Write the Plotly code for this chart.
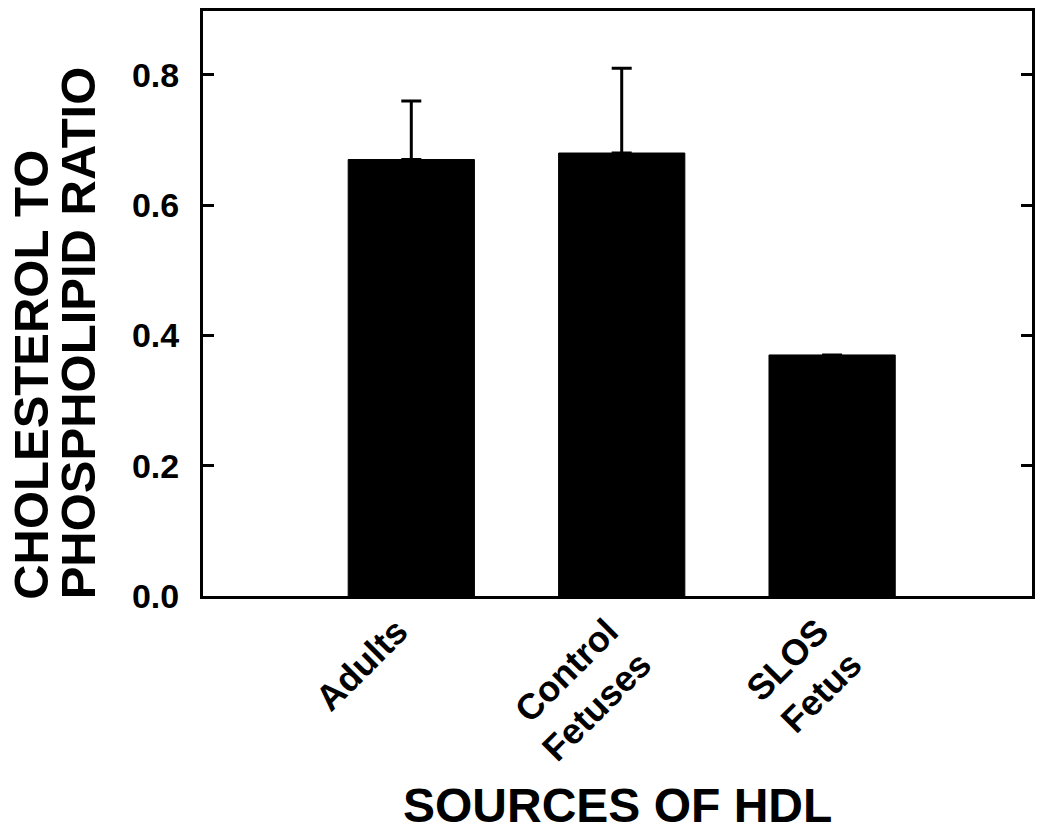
import plotly.graph_objects as go

# Data
sources = ["Adults", "Control<br>Fetuses", "SLOS<br>Fetus"]
ratio = [0.67, 0.68, 0.37]
ratio_err = [0.09, 0.13, float("nan")]
y_ticks = [0, 0.2, 0.4, 0.6, 0.8]

x_pos = list(range(len(sources)))

fig = go.Figure(
    go.Bar(
        x=x_pos,
        y=ratio,
        width=0.6,
        marker=dict(color="black", line=dict(color="black", width=1)),
        error_y=dict(type="data", array=ratio_err, symmetric=False,
                     arrayminus=[float("nan")] * 3,
                     color="black", thickness=3, width=10),
    )
)

fnt = "Arial, Liberation Sans, sans-serif"

# y title as two close lines (tight line spacing like the original)
fig.add_annotation(text="CHOLESTEROL TO", textangle=-90, xref="paper", yref="paper",
                   x=0, xshift=-172, xanchor="center", y=-0.01, yanchor="bottom",
                   showarrow=False, font=dict(size=49, weight="bold"))
fig.add_annotation(text="PHOSPHOLIPID RATIO", textangle=-90, xref="paper", yref="paper",
                   x=0, xshift=-125, xanchor="center", y=-0.01, yanchor="bottom",
                   showarrow=False, font=dict(size=49, weight="bold"))
fig.add_annotation(text="SOURCES OF HDL", xref="paper", yref="paper",
                   x=0.5, y=-0.358, xanchor="center", yanchor="middle",
                   showarrow=False, font=dict(size=48, weight="bold"))

fig.update_layout(
    width=1050,
    height=831,
    plot_bgcolor="white",
    paper_bgcolor="white",
    margin=dict(l=203, r=18, t=8, b=235),
    showlegend=False,
    font=dict(family=fnt, color="black"),
    xaxis=dict(
        tickmode="array",
        tickvals=x_pos,
        ticktext=sources,
        tickangle=-45,
        tickfont=dict(size=36, weight="bold"),
        ticklabelshift=-14,
        ticklabelstandoff=-3,
        range=[-0.99, 2.95],
        showline=True, linecolor="black", linewidth=3, mirror=True,
        ticks="", showgrid=False, zeroline=False,
    ),
    yaxis=dict(
        range=[0, 0.898],
        tickvals=y_ticks,
        tickformat=".1f",
        tickfont=dict(size=34, weight="bold"),
        ticks="inside", ticklen=11, tickwidth=3, tickcolor="black",
        ticklabelstandoff=14,
        showline=True, linecolor="black", linewidth=3, mirror="allticks",
        showgrid=False, zeroline=False,
    ),
)

fig.write_html("out.html", config={"displayModeBar": False},
               post_script="document.body.style.margin='0';")
